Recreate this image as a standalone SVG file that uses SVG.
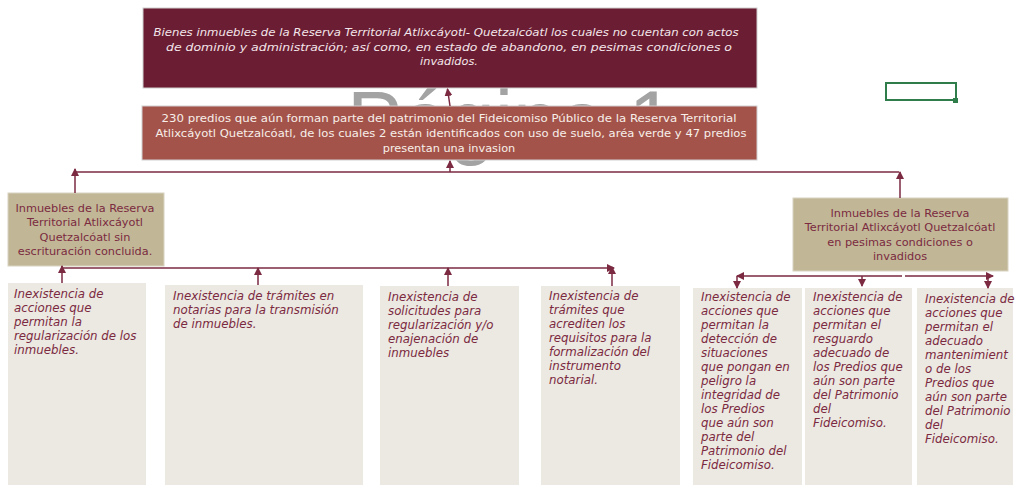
<svg xmlns="http://www.w3.org/2000/svg" width="1015" height="485" viewBox="0 0 1015 485">
<defs>
<style>
.t{font-family:"DejaVu Sans","Liberation Sans",Arial,sans-serif;font-size:11.3px}
.hi{font-style:italic;fill:#f3e6ea;text-anchor:middle}
.h2{fill:#f7efe9;text-anchor:middle}
.tan{fill:#7b2a3f;text-anchor:middle}
.it{font-style:italic;fill:#7b2a3f;font-size:11.8px}
.bx{fill:#ece8e2}
.tb{fill:#c1b797;stroke:#d8d2c0;stroke-width:1}
.c{fill:none;stroke:#7b2a42;stroke-width:1.5}
.wm{font-family:"Liberation Sans",Arial,sans-serif;font-size:83px;fill:#a3a3a3}
</style>
<marker id="ah" viewBox="0 0 8 8" refX="7" refY="4" markerWidth="8" markerHeight="8" markerUnits="userSpaceOnUse" orient="auto-start-reverse">
<path d="M0,0 L8,4 L0,8 z" fill="#7b2a42"/>
</marker>
<clipPath id="wc"><rect x="0" y="88" width="1015" height="84"/></clipPath>
</defs>
<rect width="1015" height="485" fill="#ffffff"/>
<g id="watermark" clip-path="url(#wc)">
<text class="wm" x="347" y="149">Página 1</text>
</g>
<g id="n-top">
<rect x="143" y="8" width="614" height="80" fill="#6b1d33" stroke="#cfcfcf" stroke-width="1"/>
<text class="t hi" x="446" y="36" textLength="585" lengthAdjust="spacingAndGlyphs">Bienes inmuebles de la Reserva Territorial Atlixcáyotl- Quetzalcóatl los cuales no  cuentan con actos</text>
<text class="t hi" x="449" y="51" textLength="566" lengthAdjust="spacingAndGlyphs">de dominio y administración; así como, en estado de abandono, en pesimas condiciones o</text>
<text class="t hi" x="449" y="65">invadidos.</text>
</g>
<g id="n-predios">
<rect x="142" y="106" width="615" height="54" fill="#a4534a" stroke="#d0d0d0" stroke-width="1"/>
<text class="t h2" x="449" y="122" textLength="575" lengthAdjust="spacingAndGlyphs">230 predios que aún forman parte del patrimonio del Fideicomiso Público de la Reserva Territorial</text>
<text class="t h2" x="451" y="137" textLength="591" lengthAdjust="spacingAndGlyphs">Atlixcáyotl Quetzalcóatl, de los cuales  2 están identificados con uso de suelo, aréa verde y  47 predios</text>
<text class="t h2" x="449" y="152">presentan una invasion</text>
</g>
<g id="n-green">
<rect x="886" y="83" width="70" height="17" fill="none" stroke="#2e7d4a" stroke-width="2"/>
<rect x="953" y="98" width="5" height="5" fill="#2e7d4a"/>
</g>
<g id="n-sin">
<rect class="tb" x="8" y="193" width="156" height="73"/>
<text class="t tan" x="85" y="212">Inmuebles de la Reserva</text>
<text class="t tan" x="85" y="226">Territorial Atlixcáyotl</text>
<text class="t tan" x="85" y="241">Quetzalcóatl sin</text>
<text class="t tan" x="85" y="255">escrituración concluida.</text>
</g>
<g id="n-pesimas">
<rect class="tb" x="793" y="198" width="215" height="73"/>
<text class="t tan" x="900" y="217">Inmuebles de la Reserva</text>
<text class="t tan" x="900" y="231">Territorial Atlixcáyotl Quetzalcóatl</text>
<text class="t tan" x="900" y="246">en pesimas condiciones o</text>
<text class="t tan" x="900" y="260">invadidos</text>
</g>
<g id="n-b1">
<rect class="bx" x="8" y="283" width="138" height="202"/>
<text class="t it" x="14" y="298">Inexistencia de</text>
<text class="t it" x="14" y="312">acciones que</text>
<text class="t it" x="14" y="326">permitan la</text>
<text class="t it" x="14" y="340">regularización de los</text>
<text class="t it" x="14" y="354">inmuebles.</text>
</g>
<g id="n-b2">
<rect class="bx" x="165" y="285" width="198" height="200"/>
<text class="t it" x="173" y="300">Inexistencia de trámites en</text>
<text class="t it" x="173" y="314">notarias para la transmisión</text>
<text class="t it" x="173" y="328">de inmuebles.</text>
</g>
<g id="n-b3">
<rect class="bx" x="380" y="286" width="139" height="199"/>
<text class="t it" x="388" y="301">Inexistencia de</text>
<text class="t it" x="388" y="315">solicitudes para</text>
<text class="t it" x="388" y="329">regularización y/o</text>
<text class="t it" x="388" y="343">enajenación de</text>
<text class="t it" x="388" y="357">inmuebles</text>
</g>
<g id="n-b4">
<rect class="bx" x="541" y="286" width="139" height="199"/>
<text class="t it" x="549" y="300"> Inexistencia de</text>
<text class="t it" x="549" y="314">trámites que</text>
<text class="t it" x="549" y="328">acrediten los</text>
<text class="t it" x="549" y="342">requisitos para la</text>
<text class="t it" x="549" y="356">formalización del</text>
<text class="t it" x="549" y="370">instrumento</text>
<text class="t it" x="549" y="384">notarial.</text>
</g>
<g id="n-b5">
<rect class="bx" x="693" y="288" width="109" height="197"/>
<text class="t it" x="701" y="301">Inexistencia de</text>
<text class="t it" x="701" y="315">acciones que</text>
<text class="t it" x="701" y="329">permitan la</text>
<text class="t it" x="701" y="343">detección de</text>
<text class="t it" x="701" y="357">situaciones</text>
<text class="t it" x="701" y="371">que pongan en</text>
<text class="t it" x="701" y="385">peligro la</text>
<text class="t it" x="701" y="399">integridad de</text>
<text class="t it" x="701" y="413">los  Predios</text>
<text class="t it" x="701" y="427">que aún son</text>
<text class="t it" x="701" y="441">parte del</text>
<text class="t it" x="701" y="455">Patrimonio del</text>
<text class="t it" x="701" y="469">Fideicomiso.</text>
</g>
<g id="n-b6">
<rect class="bx" x="805" y="288" width="107" height="197"/>
<text class="t it" x="813" y="301">Inexistencia de</text>
<text class="t it" x="813" y="315">acciones que</text>
<text class="t it" x="813" y="329">permitan el</text>
<text class="t it" x="813" y="343">resguardo</text>
<text class="t it" x="813" y="357">adecuado de</text>
<text class="t it" x="813" y="371">los Predios que</text>
<text class="t it" x="813" y="385">aún son parte</text>
<text class="t it" x="813" y="399">del Patrimonio</text>
<text class="t it" x="813" y="413">del</text>
<text class="t it" x="813" y="427">Fideicomiso.</text>
</g>
<g id="n-b7">
<rect class="bx" x="917" y="288" width="96" height="197"/>
<text class="t it" x="925" y="303">Inexistencia de</text>
<text class="t it" x="925" y="317">acciones que</text>
<text class="t it" x="925" y="331">permitan el</text>
<text class="t it" x="925" y="345">adecuado</text>
<text class="t it" x="925" y="359">mantenimient</text>
<text class="t it" x="925" y="373">o de los</text>
<text class="t it" x="925" y="387">Predios que</text>
<text class="t it" x="925" y="401">aún son parte</text>
<text class="t it" x="925" y="415">del Patrimonio</text>
<text class="t it" x="925" y="429">del</text>
<text class="t it" x="925" y="443">Fideicomiso.</text>
</g>
<g id="connectors">
<path class="c" d="M450,106 L447.5,89" marker-end="url(#ah)"/>
<path class="c" d="M450,172 L450,161" marker-end="url(#ah)"/>
<path class="c" d="M75,172 L899,172"/>
<path class="c" d="M75,193 L75,169" marker-end="url(#ah)"/>
<path class="c" d="M900,198 L900,172" marker-end="url(#ah)"/>
<path class="c" d="M62,268 L614,268" marker-end="url(#ah)"/>
<path class="c" d="M62,283 L62,266" marker-end="url(#ah)"/>
<path class="c" d="M258,285 L258,268" marker-end="url(#ah)"/>
<path class="c" d="M448,286 L448,268" marker-end="url(#ah)"/>
<path class="c" d="M612,286 L612,267" marker-end="url(#ah)"/>
<path class="c" d="M737,276 L902,276 M905,276 L993,276" marker-start="url(#ah)" marker-end="url(#ah)"/>
<path class="c" d="M737,276 L737,288" marker-end="url(#ah)"/>
<path class="c" d="M862,276 L862,286" marker-end="url(#ah)"/>
<path class="c" d="M988,276 L988,288" marker-end="url(#ah)"/>
</g>
</svg>
